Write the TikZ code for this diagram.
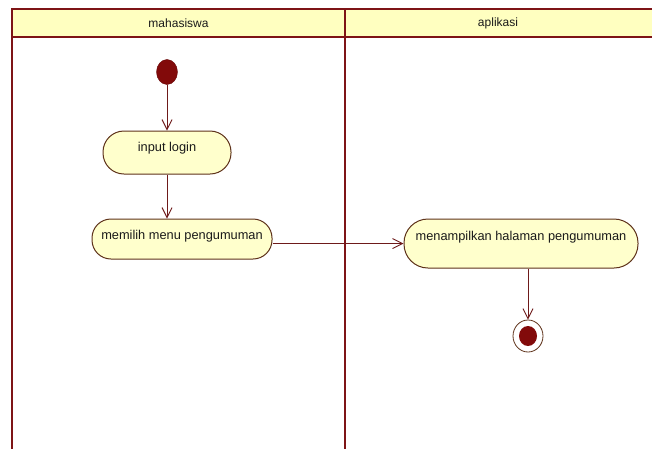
\documentclass[tikz,border=0pt]{standalone}
\usepackage{fontspec}
\setmainfont{Liberation Sans}
\usetikzlibrary{arrows.meta,shapes.geometric}
\definecolor{lanered}{HTML}{7E1416}
\definecolor{headfill}{HTML}{FFFFC0}
\definecolor{actfill}{HTML}{FFFFCC}
\definecolor{actline}{HTML}{5E321A}
\definecolor{flowline}{HTML}{6E1A1A}
\definecolor{dotred}{HTML}{820A0A}
\definecolor{ink}{HTML}{1A1A1A}
\tikzset{
  lane/.style={draw=lanered, line width=2.4pt},
  header/.style={draw=lanered, line width=1.8pt, fill=headfill},
  lanetitle/.style={font=\fontsize{12}{14}\selectfont, text=ink},
  activity/.style={draw=actline, line width=1pt, fill=actfill, rounded corners=19pt,
    minimum height=40pt, inner xsep=8pt, font=\fontsize{12.8}{14}\selectfont, text=ink},
  startdot/.style={ellipse, fill=dotred, draw=dotred!80!black, minimum width=21pt, minimum height=25pt, inner sep=0pt},
  endring/.style={ellipse, draw=actline, line width=0.8pt, fill=white, minimum width=30pt, minimum height=32pt, inner sep=0pt},
  enddot/.style={ellipse, fill=dotred, minimum width=18pt, minimum height=20pt, inner sep=0pt},
  flow/.style={draw=flowline, line width=0.9pt, -{Straight Barb[length=10pt,width=10pt,line width=0.9pt]}},
}
\begin{document}
\begin{tikzpicture}[x=1pt,y=-1pt]
  \useasboundingbox[fill=white] (0,0) rectangle (652,448);
  % swimlane headers
  \path[header] (12,9) rectangle (345,37);
  \path[header] (345,9) rectangle (655,37);
  \node[lanetitle] (lane1) at (178.5,23.5) {mahasiswa};
  \node[lanetitle] (lane2) at (498,23.5) {aplikasi};
  % swimlane borders
  \draw[lane] (12,9) -- (12,450);
  \draw[lane] (345,9) -- (345,450);
  % activities (labels sit in the upper part of each box)
  \node[startdot] (start) at (167,72) {};
  \node[activity, minimum width=128pt, minimum height=43pt, rounded corners=21pt, text depth=12pt] (login) at (167,152.5) {input login};
  \node[activity, minimum width=180pt, text depth=8pt] (menu) at (182,239) {memilih menu pengumuman};
  \node[activity, minimum width=234pt, minimum height=49pt, rounded corners=24pt, text depth=16pt] (tampil) at (521,243.5) {menampilkan halaman pengumuman};
  \node[endring] (finish) at (528,336) {};
  \node[enddot] (finishdot) at (528,336) {};
  % control flows
  \draw[flow] (start) -- (login);
  \draw[flow] (login.south) -- (login.south |- menu.north);
  \draw[flow] (menu.east |- tampil.west) -- (tampil.west);
  \draw[flow] (tampil.south -| finish) -- (finish.north);
\end{tikzpicture}
\end{document}
